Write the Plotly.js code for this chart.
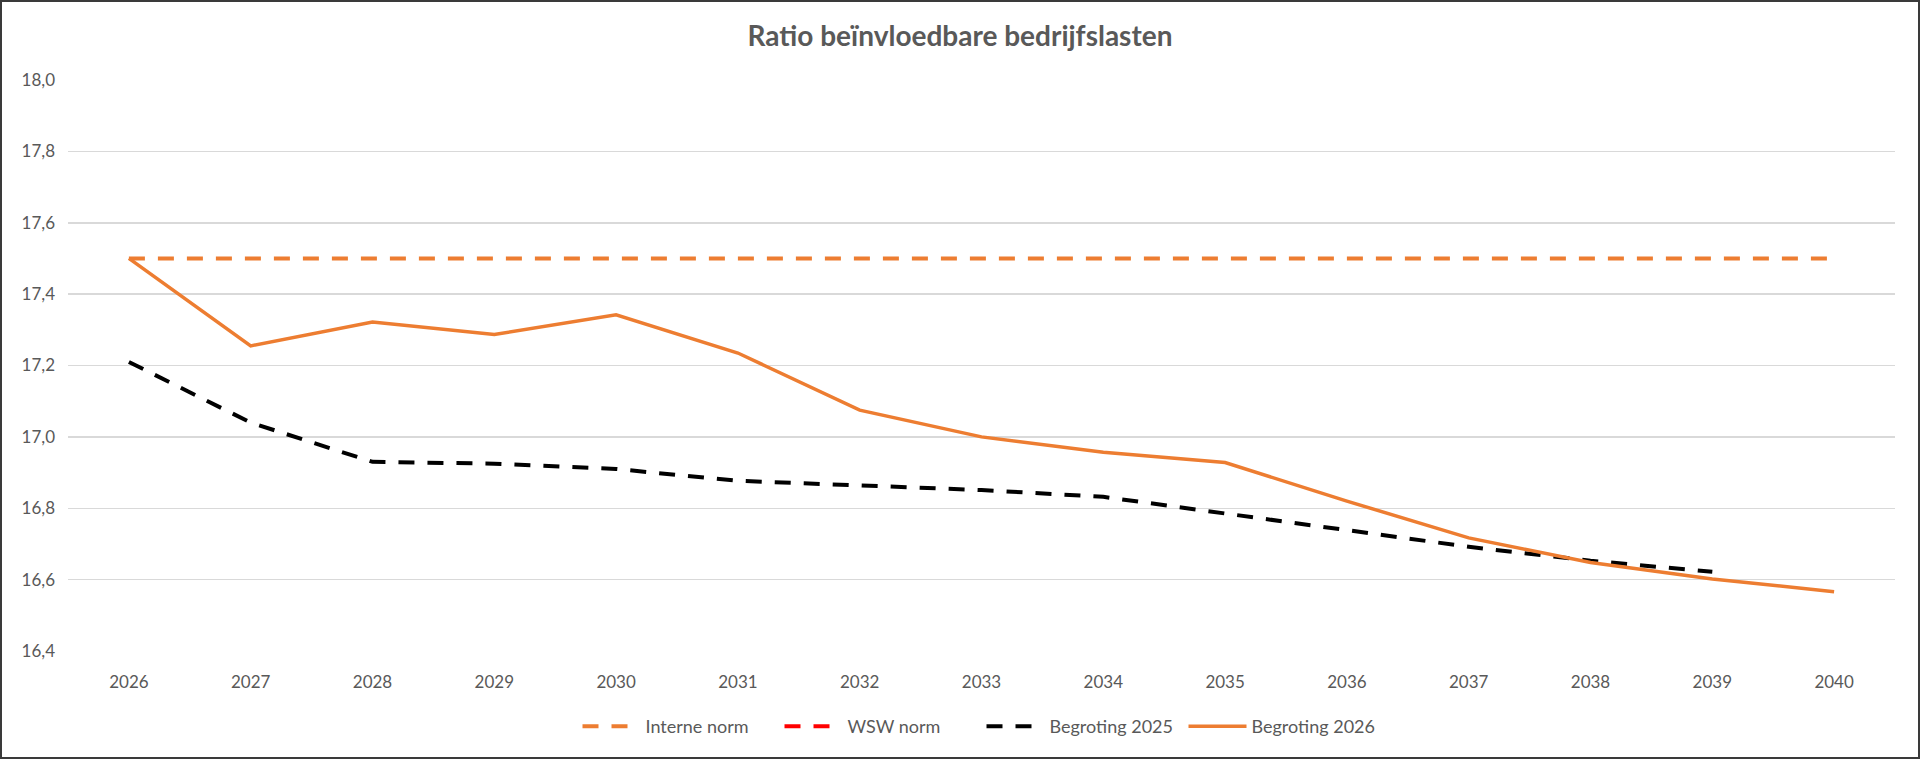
<!DOCTYPE html>
<html>
<head>
<meta charset="utf-8">
<script src="https://cdn.plot.ly/plotly-3.0.1.min.js"></script>
<style>
  html, body { margin:0; padding:0; background:#fff; }
  #chart { width:1920px; height:759px; box-sizing:border-box; border:2px solid #3a3a3a; }
</style>
</head>
<body>
<div id="chart"></div>
<script>
// values
const years = ['2026','2027','2028','2029','2030','2031','2032','2033','2034','2035','2036','2037','2038','2039','2040'];
const interneNorm = [17.5, 17.5, 17.5, 17.5, 17.5, 17.5, 17.5, 17.5, 17.5, 17.5, 17.5, 17.5, 17.5, 17.5, 17.5];
const wswNorm = [null, null, null, null, null, null, null, null, null, null, null, null, null, null, null];
const begroting2025 = [17.21, 17.04, 16.93, 16.925, 16.91, 16.877, 16.864, 16.851, 16.832, 16.785, 16.74, 16.692, 16.653, 16.622, null];
const begroting2026 = [17.5, 17.255, 17.322, 17.287, 17.342, 17.235, 17.075, 17.0, 16.957, 16.928, 16.82, 16.717, 16.648, 16.602, 16.566];
const yTicks = [16.4, 16.6, 16.8, 17.0, 17.2, 17.4, 17.6, 17.8, 18.0];

const ORANGE = '#ED7D31';
const GREY = '#595959';
const DASH = '16px,13px';

onReady(function(){
  const el = document.getElementById('chart');

  const data = [
    { x: years, y: interneNorm, name: 'Interne norm', type: 'scatter', mode: 'lines',
      line: { color: ORANGE, width: 4, dash: DASH } },
    { x: years, y: wswNorm, name: 'WSW norm', type: 'scatter', mode: 'lines',
      line: { color: '#FF0000', width: 4, dash: DASH } },
    { x: years, y: begroting2025, name: 'Begroting 2025', type: 'scatter', mode: 'lines',
      line: { color: '#000000', width: 4, dash: DASH } },
    { x: years, y: begroting2026, name: 'Begroting 2026', type: 'scatter', mode: 'lines',
      line: { color: ORANGE, width: 3.5 } }
  ];

  const layout = {
    width: 1916,
    height: 755,
    margin: { l: 66, r: 23, t: 78, b: 97 },
    paper_bgcolor: '#fff',
    plot_bgcolor: '#fff',
    font: { family: 'Lato, "Open Sans", sans-serif', color: GREY, size: 17 },
    title: {
      text: '<b>Ratio beïnvloedbare bedrijfslasten</b>',
      x: 0.5, xanchor: 'center',
      y: 0.955, yanchor: 'middle',
      font: { family: 'Lato, "Open Sans", sans-serif', size: 28, color: GREY }
    },
    xaxis: {
      type: 'category',
      range: [-0.5, 14.5],
      showgrid: false,
      zeroline: false,
      showline: false,
      ticks: '',
      ticklabelstandoff: 19,
      tickfont: { size: 17, color: GREY },
      fixedrange: true
    },
    yaxis: {
      range: [16.4, 18.0],
      tickvals: yTicks,
      ticktext: yTicks.map(v => v.toFixed(1).replace('.', ',')),
      showgrid: true,
      gridcolor: '#D9D9D9',
      gridwidth: 1.5,
      zeroline: false,
      showline: false,
      ticks: '',
      ticklabelstandoff: 12,
      tickfont: { size: 17, color: GREY },
      fixedrange: true
    },
    showlegend: true,
    legend: {
      orientation: 'h',
      x: 0.5, xanchor: 'center',
      y: -0.1, yanchor: 'top',
      font: { size: 18, color: GREY },
      itemwidth: 58,
      entrywidth: 129,
      entrywidthmode: 'pixels',
      traceorder: 'normal'
    }
  };

  Plotly.newPlot(el, data, layout, { displayModeBar: false, staticPlot: true });
});

function onReady(fn){
  if (document.readyState !== 'loading') fn();
  else document.addEventListener('DOMContentLoaded', fn);
}
</script>
</body>
</html>
